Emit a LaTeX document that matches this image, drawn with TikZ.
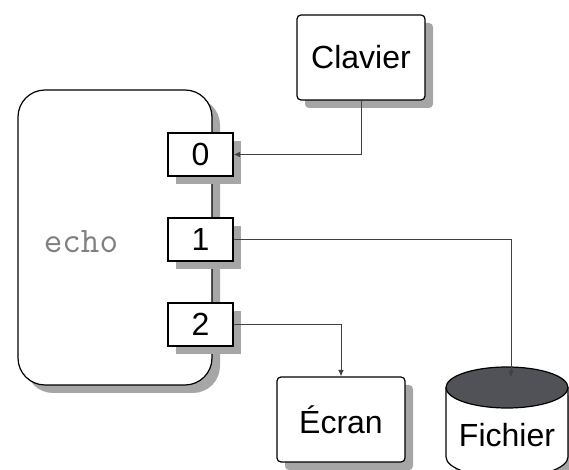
\documentclass[tikz,border=0pt]{standalone}
\usepackage{fontspec}
\setmainfont{Liberation Sans}
\usetikzlibrary{shadows,arrows.meta}
\definecolor{disque}{HTML}{505258}

\begin{document}
\begin{tikzpicture}[x=0.5pt,y=-0.5pt,
  font=\fontsize{16}{19}\selectfont,
  ombre/.style={drop shadow={shadow xshift=4pt,shadow yshift=-4pt,fill=black!35,opacity=1}},
  boite/.style={draw,fill=white,line width=0.6pt,rounded corners=2pt,
    minimum width=64pt,minimum height=42.5pt,ombre},
  port/.style={draw,fill=white,line width=0.6pt,inner sep=0pt,
    minimum width=32.5pt,minimum height=21.5pt,ombre},
  flux/.style={draw=black!75,line width=0.5pt,-{Latex[length=3.2pt,width=2.8pt]}}]
\useasboundingbox (0,0) rectangle (569,470);
% le processus et ses descripteurs
\node[draw,fill=white,line width=0.6pt,rounded corners=13.5pt,
  minimum width=97pt,minimum height=147.5pt,ombre] (echo) at (115,237.5) {};
\node[text=black!50,font=\ttfamily\fontsize{18}{21}\selectfont] (nom) at (81,242) {echo};
\node[port] (p0) at (200.5,154.5) {0};
\node[port] (p1) at (200.5,239.5) {1};
\node[port] (p2) at (200.5,324.5) {2};
% peripheriques
\node[boite] (clavier) at (361,57.5) {Clavier};
\node[boite] (ecran) at (341,419.5) {Écran};
\fill[black!35] (454,395.5) -- (454,465) arc[start angle=180,end angle=360,
  x radius=30.5pt,y radius=10.25pt] -- (576,395.5) -- cycle;
\draw[fill=white,line width=0.6pt] (446,387.5) -- (446,457)
  arc[start angle=180,end angle=360,x radius=30.5pt,y radius=10.25pt] -- (568,387.5);
\draw[fill=disque,line width=0.6pt] (507,387.5) ellipse[x radius=30.5pt,y radius=10.25pt];
\node (fichier) at (507,435) {Fichier};
\coordinate (disquehaut) at (511,377);
% redirections
\draw[flux] (clavier.south) |- (p0.east);
\draw[flux] (p1.east) -| (disquehaut);
\draw[flux] (p2.east) -| (ecran.north);
\end{tikzpicture}
\end{document}
